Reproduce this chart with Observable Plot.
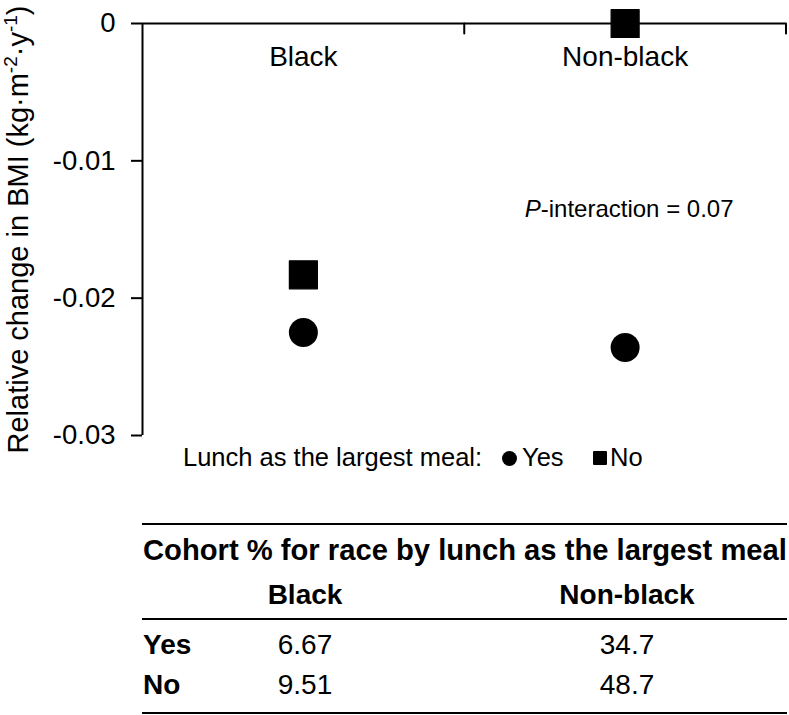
<!DOCTYPE html>
<html><head><meta charset="utf-8">
<script src="https://cdn.jsdelivr.net/npm/d3@7"></script>
<script src="https://cdn.jsdelivr.net/npm/@observablehq/plot@0.6"></script>
<style>
body{margin:0;background:#fff;font-family:"Liberation Sans",Arial,sans-serif;color:#000}
#wrap{position:relative;width:789px;height:715px;overflow:hidden;background:#fff}
#chart{position:absolute;left:0;top:0}
.abs{position:absolute;white-space:nowrap;line-height:1}
.rule{position:absolute;background:#000}
</style></head><body><div id="wrap"><div id="chart"></div></div>
<script>
// ---- data ----
const races = ["Black", "Non-black"];
const lunchYes = [-0.0225, -0.0236];
const lunchNo = [-0.0183, 0];
const yTicks = [0, -0.01, -0.02, -0.03];
const yLabelParts = ["Relative change in BMI (kg·m", "-2", "·y", "-1", ")"];
const pLabelItalic = "P";
const pLabelRest = "-interaction = 0.07";
const legendTitle = "Lunch as the largest meal:";
const legendItems = ["Yes", "No"];
const tableTitle = "Cohort % for race by lunch as the largest meal";
const tableRows = ["Yes", "No"];
const cohortBlack = ["6.67", "9.51"];
const cohortNonBlack = ["34.7", "48.7"];

// ---- chart ----
const pts = races.flatMap((r, i) => [
  {race: r, meal: legendItems[0], value: lunchYes[i]},
  {race: r, meal: legendItems[1], value: lunchNo[i]}
]);
const xi = d => races.indexOf(d.race) + 0.5;

const plot = Plot.plot({
  width: 789, height: 450,
  marginLeft: 142, marginRight: 3.5, marginTop: 23, marginBottom: 15,
  style: {fontFamily: "'Liberation Sans', Arial, sans-serif", fontSize: "27px", color: "#000", background: "#fff", overflow: "visible"},
  x: {type: "linear", domain: [0, races.length], axis: null},
  y: {domain: [-0.03, 0], axis: null},
  marks: [
    Plot.axisY({ticks: yTicks, tickSize: 11, tickPadding: 16, strokeWidth: 2, fontSize: 27.5,
      tickFormat: d => d === 0 ? "0" : d.toFixed(2),
      label: yLabelParts.join(""), labelAnchor: "center", labelArrow: "none", labelOffset: 135}),
    Plot.ruleX([0], {y1: -0.03, y2: 0, strokeWidth: 2}),
    Plot.ruleY([0], {strokeWidth: 2}),
    Plot.vector(d3.range(1, races.length + 1), {x: d => d, y: 0, length: 10, anchor: "start", rotate: 180, strokeWidth: 2,
      shape: {draw(ctx, l) { ctx.moveTo(0, 0); ctx.lineTo(0, -l); }}}),
    Plot.text(races, {x: (d, i) => i + 0.5, y: 0, dy: 34, text: d => d, fontSize: 28}),
    Plot.text([pLabelItalic + pLabelRest], {x: 1.5, y: -0.0135, dx: 4, text: d => d, fontSize: 24}),
    Plot.dot(pts.filter(d => d.meal === legendItems[0]), {x: xi, y: "value", r: 14.5, fill: "#000", symbol: "circle"}),
    Plot.dot(pts.filter(d => d.meal === legendItems[1]), {x: xi, y: "value", r: 15.8, fill: "#000", stroke: "#000", strokeWidth: 1.2, strokeLinejoin: "round", symbol: "square"})
  ]
});

const NS = "http://www.w3.org/2000/svg";
const allText = Array.from(plot.querySelectorAll("text"));
// y label with superscripts
const lab = allText.find(t => t.textContent === yLabelParts.join(""));
if (lab) {
  lab.textContent = "";
  lab.setAttribute("font-size", "29");
  yLabelParts.forEach((s, i) => {
    const t = document.createElementNS(NS, "tspan");
    const sup = i % 2 === 1;
    if (sup) { t.setAttribute("dy", "-11"); t.setAttribute("font-size", "19"); }
    else if (i > 0) { t.setAttribute("dy", "11"); }
    t.textContent = s;
    lab.appendChild(t);
  });
}
// italic P
const pt = allText.find(t => t.textContent === pLabelItalic + pLabelRest);
if (pt) {
  pt.textContent = "";
  const a = document.createElementNS(NS, "tspan");
  a.setAttribute("style", "font-style: italic");
  a.textContent = pLabelItalic;
  const b = document.createElementNS(NS, "tspan");
  b.textContent = pLabelRest;
  pt.appendChild(a); pt.appendChild(b);
}
document.getElementById("chart").appendChild(plot);

// ---- legend + table (HTML) ----
const wrap = document.getElementById("wrap");
function put(text, {left, cx, cy, size = 28, bold = false}) {
  const d = document.createElement("div");
  d.className = "abs";
  d.textContent = text;
  d.style.fontSize = size + "px";
  d.style.fontWeight = bold ? "bold" : "normal";
  d.style.top = cy + "px";
  if (cx != null) { d.style.left = cx + "px"; d.style.transform = "translate(-50%,-50%)"; }
  else { d.style.left = left + "px"; d.style.transform = "translate(0,-50%)"; }
  wrap.appendChild(d);
  return d;
}
function rule(top, h = 2) {
  const r = document.createElement("div");
  r.className = "rule";
  Object.assign(r.style, {left: "142px", width: "645px", top: top + "px", height: h + "px"});
  wrap.appendChild(r);
}
function marker(kind, cx, cy, s) {
  const m = document.createElement("div");
  Object.assign(m.style, {position: "absolute", left: (cx - s / 2) + "px", top: (cy - s / 2) + "px", width: s + "px", height: s + "px", background: "#000", borderRadius: kind === "circle" ? "50%" : "1px"});
  wrap.appendChild(m);
}
// legend
const legY = 458;
put(legendTitle, {left: 183, cy: legY, size: 25.5});
marker("circle", 509.5, legY, 15);
put(legendItems[0], {left: 522, cy: legY, size: 25.5});
marker("square", 600, legY, 14);
put(legendItems[1], {left: 610, cy: legY, size: 25.5});

// table
const colX = [305, 627];
rule(523, 2);
put(tableTitle, {left: 143, cy: 551, size: 29.2, bold: true});
races.forEach((r, i) => put(r, {cx: colX[i], cy: 595, size: 28, bold: true}));
rule(618, 1.6);
tableRows.forEach((r, j) => {
  const cy = 645 + j * 40;
  put(r, {left: 143, cy, size: 28, bold: true});
  put(cohortBlack[j], {cx: colX[0], cy, size: 28});
  put(cohortNonBlack[j], {cx: colX[1], cy, size: 28});
});
rule(712, 1.6);
</script></body></html>
